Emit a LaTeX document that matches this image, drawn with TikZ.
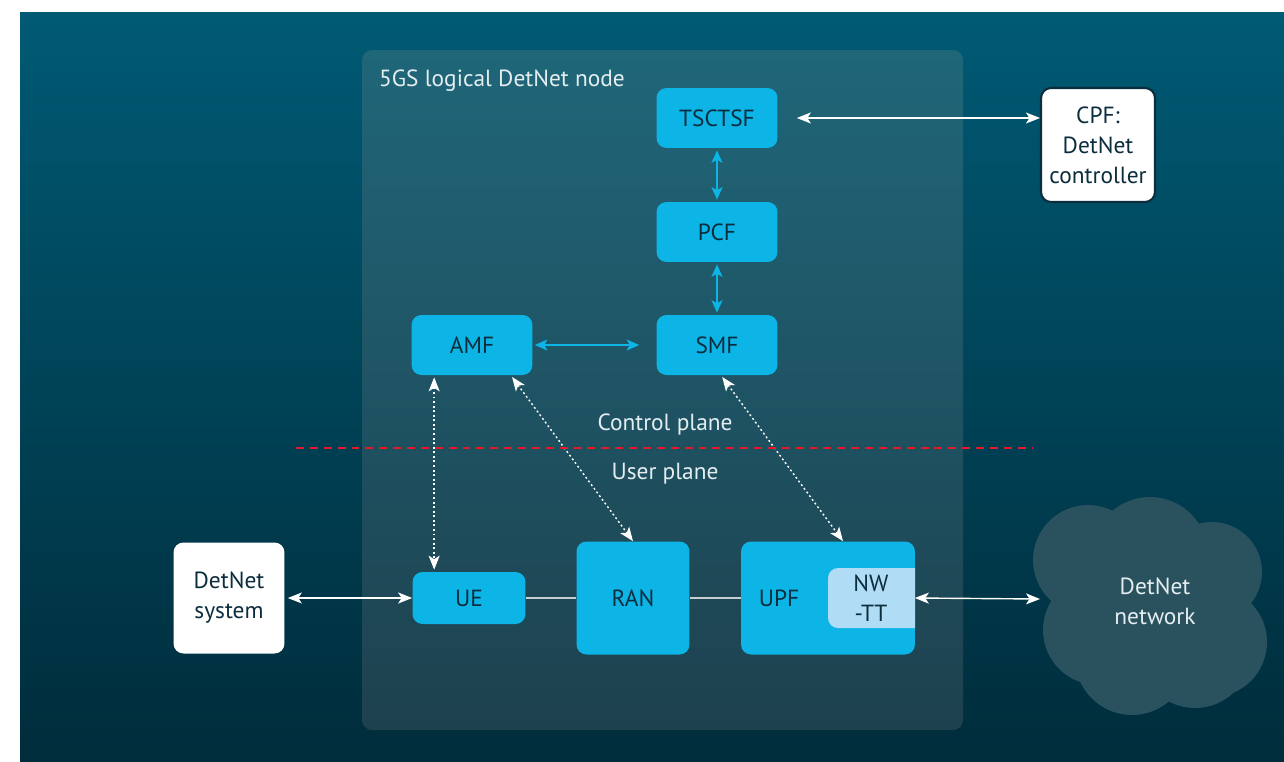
\documentclass[tikz,border=0pt]{standalone}
\usepackage{fontspec}
\setmainfont{PT Sans}
\usepackage{tikz}
\usepackage{xcolor}
\usetikzlibrary{arrows.meta}

\definecolor{bgtop}{HTML}{005A74}
\definecolor{bgbot}{HTML}{002C3B}
\definecolor{paneltop}{HTML}{1F6679}
\definecolor{panelbot}{HTML}{1E414E}
\definecolor{nfblue}{HTML}{0DB4E6}
\definecolor{nwblue}{HTML}{B0DCF5}
\definecolor{navy}{HTML}{0B2D3D}
\definecolor{pale}{HTML}{E4EEF0}
\definecolor{cloudgrey}{HTML}{29515E}
\definecolor{planered}{HTML}{E3192A}
\definecolor{linkgrey}{HTML}{C5CED1}

\tikzset{
    nf/.style={fill=nfblue, text=navy, rounded corners=0.2cm, inner sep=0pt, minimum width=2.42cm, minimum height=1.2cm},
    ext/.style={fill=white, text=navy, rounded corners=0.2cm, align=center, inner sep=0pt, minimum size=2.22cm},
    txt/.style={text=pale, align=center},
    warr/.style={draw=white, line width=0.8pt, {Stealth[length=0.28cm,width=0.22cm,inset=0.07cm]}-{Stealth[length=0.28cm,width=0.22cm,inset=0.07cm]}},
    carr/.style={draw=nfblue, line width=0.8pt, {Stealth[length=0.25cm,width=0.22cm,inset=0.06cm]}-{Stealth[length=0.25cm,width=0.22cm,inset=0.06cm]}},
    darr/.style={warr, dash pattern=on 1.1pt off 1.5pt},
    link/.style={draw=linkgrey, line width=0.8pt},
    planeline/.style={draw=planered, line width=1.1pt, dash pattern=on 4.5pt off 3.4pt}
}

\begin{document}
\begin{tikzpicture}[x=0.02cm, y=-0.02cm, every node/.style={font=\fontsize{13.3}{17}\selectfont}]
    \useasboundingbox (0,0) rectangle (1284,761);
    \fill[white] (0,0) rectangle (1284,761);
    \shade[top color=bgtop, bottom color=bgbot] (20,12) rectangle (1284,761);
    \shade[top color=paneltop, bottom color=panelbot, rounded corners=0.2cm] (362,50) rectangle (963,730);
    \node[txt, anchor=west] (title) at (373,81) {5GS logical DetNet node};

    \fill[cloudgrey] (1088,560) circle (55);
    \fill[cloudgrey] (1150,555) circle (58);
    \fill[cloudgrey] (1212,572) circle (50);
    \fill[cloudgrey] (1212,642) circle (55);
    \fill[cloudgrey] (1098,630) circle (55);
    \fill[cloudgrey] (1132,658) circle (57);
    \fill[cloudgrey] (1195,652) circle (56);
    \fill[cloudgrey] (1155,610) circle (75);
    \node[txt] (net) at (1155,601) {DetNet\\network};
    \coordinate (netin) at (1040,599);

    \node[nf] (tsctsf) at (717,118) {TSCTSF};
    \node[nf] (pcf) at (717,232) {PCF};
    \node[nf] (smf) at (717,345) {SMF};
    \node[nf] (amf) at (472,345) {AMF};
    \node[nf, minimum width=2.26cm, minimum height=1.04cm] (ue) at (469,598) {UE};
    \node[nf, minimum width=2.26cm, minimum height=2.26cm] (ran) at (633,598) {RAN};
    \node[nf, minimum width=3.48cm, minimum height=2.26cm] (upf) at (828,598) {};
    \node[text=navy, anchor=west] (upflabel) at ([xshift=0.24cm]upf.west) {UPF};
    \fill[nwblue, rounded corners=0.2cm] (915,568) -- (828,568) -- (828,628) -- (915,628);
    \node[text=navy, align=center, inner sep=0pt, minimum width=1.74cm, minimum height=1.2cm] (nwtt) at (871,598) {NW\\-TT};

    \node[ext] (dsys) at (229,598) {DetNet\\system};
    \node[ext, minimum size=2.28cm, draw=navy, line width=1.2pt] (cpf) at (1098,145) {CPF:\\DetNet\\controller};

    \draw[warr, shorten <=0.38cm] (tsctsf.east) -- (tsctsf.east -| cpf.west);
    \draw[carr, shorten <=0.04cm, shorten >=0.04cm] (tsctsf) -- (pcf);
    \draw[carr, shorten <=0.04cm, shorten >=0.04cm] (pcf) -- (smf);
    \draw[carr, shorten <=0.04cm, shorten >=0.34cm] (amf) -- (smf);
    \draw[darr, shorten <=0.04cm, shorten >=0.04cm] ([xshift=0.46cm]amf.south west) -- ([xshift=0.46cm]amf.south west |- ue.north);
    \draw[darr, shorten <=0.04cm] ([xshift=-0.44cm]amf.south east) -- (ran.north);
    \draw[darr, shorten <=0.04cm] ([xshift=0.08cm]smf.south) -- ([xshift=0.3cm]upf.north);

    \draw[warr, shorten <=0.06cm] (dsys.east) -- (ue.west);
    \draw[link] (ue) -- (ran);
    \draw[link] (ran) -- (upf);
    \draw[warr] (nwtt.east) -- (netin);

    \draw[planeline] (296,448) -- (1033,448);
    \node[txt] (cplane) at (665,425) {Control plane};
    \node[txt] (uplane) at (665,474) {User plane};
\end{tikzpicture}
\end{document}
